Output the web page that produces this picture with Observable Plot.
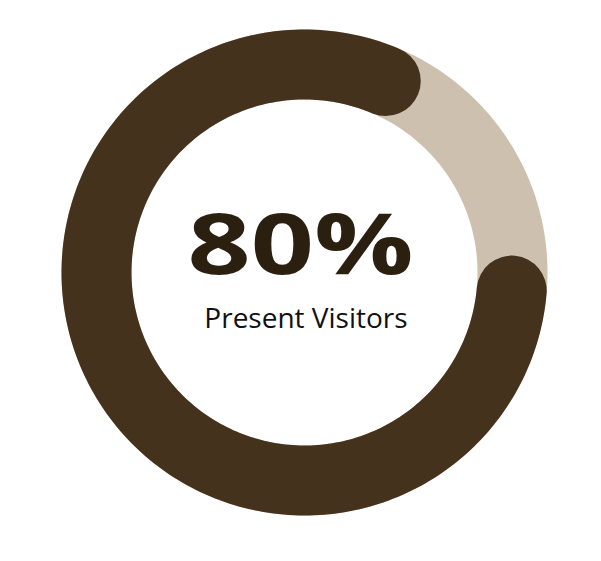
<!DOCTYPE html>
<html>
<head>
<meta charset="utf-8">
<script src="https://cdn.jsdelivr.net/npm/d3@7"></script>
<script src="https://cdn.jsdelivr.net/npm/@observablehq/plot@0.6"></script>
<style>
  html, body { margin: 0; padding: 0; background: #ffffff; }
</style>
</head>
<body>
<div id="chart"></div>
<script>
// ---- data ----
const value = 80;                 // percent shown
const total = 100;
const valueLabel = "80%";
const subLabel = "Present Visitors";
const startAngle = 95;            // degrees, clockwise from 12 o'clock

// angular scale: percent -> degrees of sweep
const sweep = d3.scaleLinear().domain([0, total]).range([0, 360]);
const toPoint = deg => {
  const a = deg * Math.PI / 180;
  return {x: Math.sin(a), y: Math.cos(a)};
};
const trackPts = d3.range(0, 361).map(i => toPoint(i));
const n = 240;
const arcPts = d3.range(0, n + 1).map(i => toPoint(startAngle + sweep(value) * i / n));

const plot = Plot.plot({
  width: 601,
  height: 561,
  margin: 0,
  style: {background: "#ffffff"},
  x: {domain: [-1, 1], range: [96, 512], axis: null},
  y: {domain: [-1, 1], range: [480, 64], axis: null},
  marks: [
    Plot.line(trackPts, {x: "x", y: "y", stroke: "#CDC0AF", strokeWidth: 70}),
    Plot.line(arcPts, {x: "x", y: "y", stroke: "#45321C", strokeWidth: 70, strokeLinecap: "round"}),
    Plot.text([{x: 0, y: 0, t: valueLabel}], {
      x: "x", y: "y", text: "t", dx: -4, dy: 1, lineAnchor: "bottom",
      fontSize: 84, fontWeight: 700, fontFamily: "Open Sans",
      fill: "#2B1F10", className: "big-value"
    }),
    Plot.text([{x: 0, y: 0, t: subLabel}], {
      x: "x", y: "y", text: "t", dx: 1.5, dy: 55, lineAnchor: "bottom",
      fontSize: 28, fontWeight: 400, fontFamily: "Open Sans",
      fill: "#111111"
    })
  ]
});

d3.select(plot).selectAll(".big-value text")
  .attr("textLength", 226)
  .attr("lengthAdjust", "spacingAndGlyphs");

document.getElementById("chart").appendChild(plot);
</script>
</body>
</html>
